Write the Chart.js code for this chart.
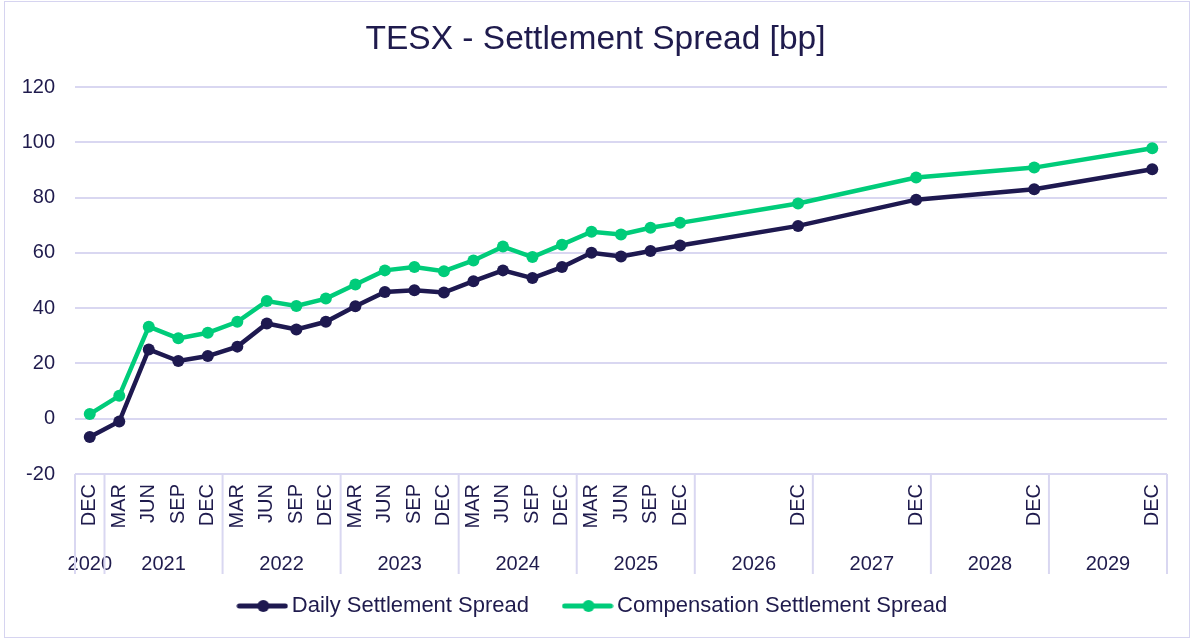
<!DOCTYPE html>
<html><head><meta charset="utf-8">
<script src="https://cdn.jsdelivr.net/npm/chart.js@4.4.1/dist/chart.umd.min.js"></script>
<style>
html,body{margin:0;padding:0;background:#fff;}
#wrap{position:relative;width:1191px;height:639px;}
#frame{position:absolute;left:4px;top:1px;width:1186px;height:637px;border:1.5px solid #D6D4F0;box-sizing:border-box;pointer-events:none;}
canvas{position:absolute;left:0;top:0;}
</style></head>
<body><div id="wrap"><canvas id="c" width="1191" height="639"></canvas><div id="frame"></div></div>
<script>
const titleText = 'TESX - Settlement Spread [bp]';
const monthLabels = [
  'DEC',
  'MAR','JUN','SEP','DEC',
  'MAR','JUN','SEP','DEC',
  'MAR','JUN','SEP','DEC',
  'MAR','JUN','SEP','DEC',
  'MAR','JUN','SEP','DEC',
  '','','','DEC',
  '','','','DEC',
  '','','','DEC',
  '','','','DEC'
];
const yearLabels = ['2020','2021','2022','2023','2024','2025','2026','2027','2028','2029'];
const yearSpans  = [1,4,4,4,4,4,4,4,4,4];
const dailySpread = [
  -6.6,
  -1.0, 25.1, 20.9, 22.7,
  26.1, 34.5, 32.3, 35.1,
  40.7, 45.9, 46.5, 45.7,
  49.8, 53.7, 50.9, 54.9,
  60.1, 58.7, 60.7, 62.7,
  null, null, null, 69.8,
  null, null, null, 79.3,
  null, null, null, 83.1,
  null, null, null, 90.3
];
const compensationSpread = [
  1.7,
  8.3, 33.3, 29.1, 31.1,
  35.1, 42.6, 40.8, 43.5,
  48.6, 53.7, 54.9, 53.4,
  57.3, 62.3, 58.5, 63.0,
  67.7, 66.7, 69.1, 70.9,
  null, null, null, 77.9,
  null, null, null, 87.3,
  null, null, null, 90.9,
  null, null, null, 97.9
];
const seriesNames = ['Daily Settlement Spread','Compensation Settlement Spread'];

const NAVY = '#1E1950';
const GREEN = '#00CC7A';
const GRID = '#D9D7F1';
const TEXT = '#1F1B4D';
const FONT = "'Liberation Sans', Arial, sans-serif";
Chart.defaults.font.family = FONT;
Chart.defaults.color = TEXT;

function legendIcon(color){
  const c = document.createElement('canvas');
  c.width = 52; c.height = 14;
  const x = c.getContext('2d');
  x.strokeStyle = color; x.lineWidth = 5; x.lineCap = 'round';
  x.beginPath(); x.moveTo(3,7); x.lineTo(49,7); x.stroke();
  x.fillStyle = color; x.beginPath(); x.arc(27,7,6,0,Math.PI*2); x.fill();
  return c;
}
const icons = [legendIcon(NAVY), legendIcon(GREEN)];

const yearAxisPlugin = {
  id: 'yearAxis',
  afterDraw(chart){
    const xs = chart.scales.x, ca = chart.chartArea, ctx = chart.ctx;
    const half = (xs.getPixelForValue(1) - xs.getPixelForValue(0)) / 2;
    ctx.save();
    ctx.strokeStyle = GRID; ctx.lineWidth = 2;
    ctx.fillStyle = TEXT; ctx.font = '20px ' + FONT;
    ctx.textAlign = 'center'; ctx.textBaseline = 'middle';
    let idx = 0;
    const bounds = [];
    yearLabels.forEach((y, i) => {
      const first = idx, last = idx + yearSpans[i] - 1;
      const l = xs.getPixelForValue(first) - half, r = xs.getPixelForValue(last) + half;
      bounds.push(l); if (i === yearLabels.length - 1) bounds.push(r);
      ctx.fillText(y, (l + r) / 2, ca.bottom + 90);
      idx += yearSpans[i];
    });
    bounds.forEach(b => { ctx.beginPath(); ctx.moveTo(b, ca.bottom); ctx.lineTo(b, ca.bottom + 100); ctx.stroke(); });
    ctx.restore();
  }
};

new Chart(document.getElementById('c'), {
  type: 'line',
  data: {
    labels: monthLabels,
    datasets: [
      { label: seriesNames[0], data: dailySpread, borderColor: NAVY, backgroundColor: NAVY, borderWidth: 4.5, pointRadius: 6, pointHoverRadius: 6, pointBackgroundColor: NAVY, pointBorderWidth: 0, spanGaps: true, tension: 0 },
      { label: seriesNames[1], data: compensationSpread, borderColor: GREEN, backgroundColor: GREEN, borderWidth: 4.5, pointRadius: 6, pointHoverRadius: 6, pointBackgroundColor: GREEN, pointBorderWidth: 0, spanGaps: true, tension: 0 }
    ]
  },
  options: {
    responsive: false, animation: false, devicePixelRatio: 1,
    layout: { padding: { left: 0, right: 0, top: 0, bottom: 12 } },
    plugins: {
      title: { display: true, text: titleText, color: TEXT, font: { size: 33.5, weight: 'normal', family: FONT }, padding: { top: 20, bottom: 27 } },
      legend: {
        position: 'bottom',
        labels: {
          usePointStyle: true, pointStyleWidth: 37, padding: 40,
          font: { size: 22, family: FONT }, color: TEXT,
          generateLabels(chart){
            return chart.data.datasets.map((d, i) => ({ text: d.label, pointStyle: icons[i], fillStyle: d.borderColor, strokeStyle: d.borderColor, lineWidth: 0, hidden: false, datasetIndex: i, fontColor: TEXT }));
          }
        }
      },
      tooltip: { enabled: false }
    },
    scales: {
      x: {
        offset: true,
        grid: { display: false, drawTicks: false }, border: { display: false },
        ticks: { autoSkip: false, minRotation: 90, maxRotation: 90, padding: 10, font: { size: 20 }, color: TEXT },
        afterFit(s){ s.height = 81; }
      },
      y: {
        min: -20, max: 120,
        grid: { color: GRID, lineWidth: 2, drawTicks: false }, border: { display: false },
        ticks: { stepSize: 20, padding: 20, font: { size: 20 }, color: TEXT },
        afterFit(s){ s.width = 75; }
      },
      yR: {
        position: 'right', min: -20, max: 120,
        grid: { display: false, drawTicks: false }, border: { display: false },
        ticks: { display: false },
        afterFit(s){ s.width = 24; }
      }
    }
  },
  plugins: [yearAxisPlugin]
});
</script>
</body></html>
